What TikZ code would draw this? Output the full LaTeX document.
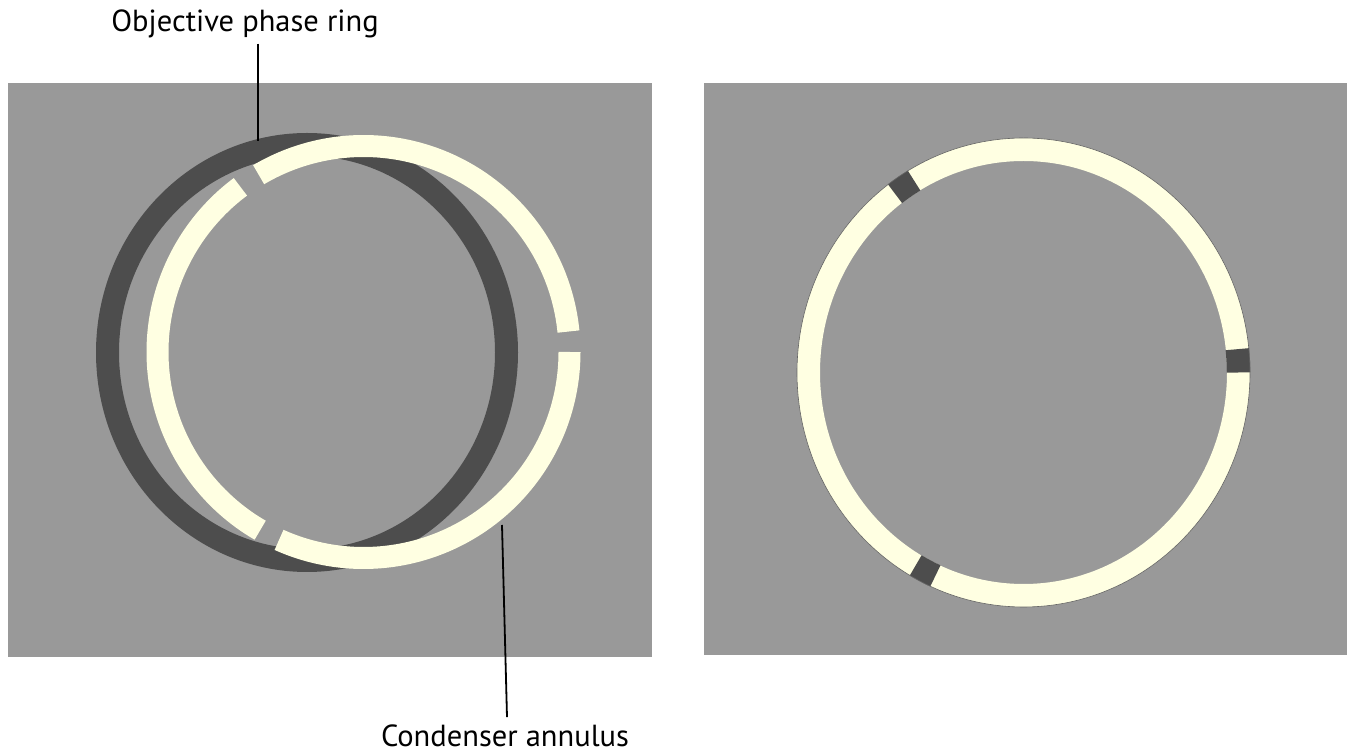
\documentclass[tikz,border=0pt]{standalone}
\usepackage{fontspec}
\setmainfont{PT Sans}
\usetikzlibrary{calc}
\definecolor{bggray}{RGB}{153,153,153}
\definecolor{ringdark}{RGB}{77,77,77}
\definecolor{cream}{RGB}{255,255,226}
\tikzset{
  panel/.style={fill=bggray, draw=none},
  phasering/.style={draw=ringdark, line width=23pt},
  annulus/.style={draw=cream, line width=22pt, line cap=butt},
  block/.style={draw=ringdark, line width=23.5pt, line cap=butt},
  leader/.style={draw=black, line width=1.8pt},
  lbl/.style={font=\fontsize{30.5}{34}\selectfont, inner sep=0pt}
}
\begin{document}
\begin{tikzpicture}[x=1pt,y=1pt]
\useasboundingbox (0,0) rectangle (1347,755);
% panels
\path[panel] (8,98) rectangle (652,672);
\path[panel] (704,100) rectangle (1347,672);
% left: objective phase ring
\coordinate (pc) at (307,402.5);
\draw[phasering] (pc) ellipse[x radius=199.5, y radius=208];
% left: condenser annulus, shifted, with three gaps
\coordinate (ac) at (363.5,403);
\draw[annulus] ($(ac)+(5.7:206)$) arc[start angle=5.7, end angle=120.6, radius=206];
\draw[annulus] ($(ac)+(126.7:206)$) arc[start angle=126.7, end angle=239.9, radius=206];
\draw[annulus] ($(ac)+(245.8:206)$) arc[start angle=245.8, end angle=360, radius=206];
% right: aligned annulus with phase ring segments
\coordinate (rc) at (1023.5,382.5);
\draw[annulus, line width=23pt] (rc) ellipse[x radius=215, y radius=223];
\draw[block] ($(rc)+({215*cos(0)},{223*sin(0)})$) arc[start angle=0, end angle=6, x radius=215, y radius=223];
\draw[block] ($(rc)+({215*cos(120.6)},{223*sin(120.6)})$) arc[start angle=120.6, end angle=126.7, x radius=215, y radius=223];
\draw[block] ($(rc)+({215*cos(239.9)},{223*sin(239.9)})$) arc[start angle=239.9, end angle=245.8, x radius=215, y radius=223];
\draw[draw=black!60, line width=0.6pt] (rc) ellipse[x radius=226.5, y radius=234.5];
% labels and leaders
\node[lbl, anchor=base] (obj) at (245,723) {Objective phase ring};
\coordinate (objtip) at (258,614);
\draw[leader] (objtip |- obj.south) ++(0,-5) -- (objtip);
\node[lbl, anchor=base] (cond) at (505,8) {Condenser annulus};
\coordinate (condtip) at (502,230);
\draw[leader] (condtip |- cond.north) ++(5,8) -- (condtip);
\end{tikzpicture}
\end{document}
